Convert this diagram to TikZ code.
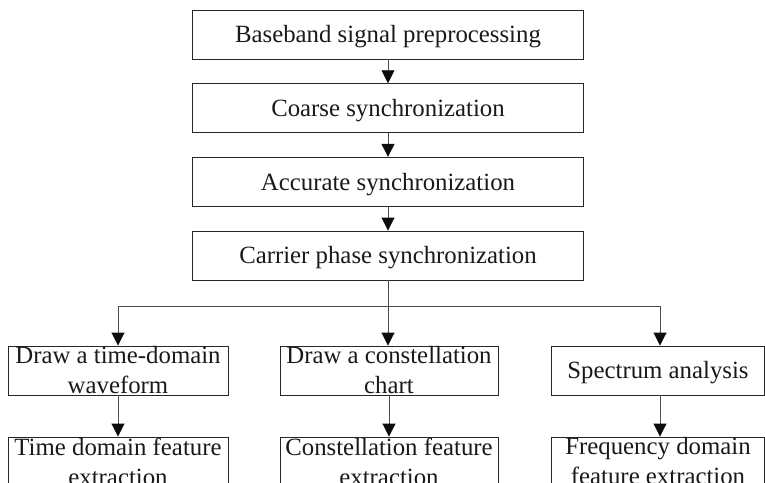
\documentclass[tikz,border=0pt]{standalone}
\usepackage{fontspec}
\setmainfont{Liberation Serif}
\usetikzlibrary{arrows.meta}

\tikzset{
  x=1pt, y=-1pt,
  procbox/.style={draw=black!85, line width=0.9pt, inner sep=0pt, align=center,
    text=black!90, font=\fontsize{24.8}{30}\selectfont, minimum height=49pt},
  oneline/.style={text height=16.4pt, text depth=0pt},
  wide/.style={minimum width=391pt, oneline},
  narrow/.style={minimum width=220pt},
  link/.style={draw=black!70, line width=0.9pt},
  flow/.style={link, -{Triangle[length=13pt,width=13pt,color=black!95]}},
}

\begin{document}
\begin{tikzpicture}
  \useasboundingbox (0,0) rectangle (765,482);
  \clip (0,0) rectangle (765,482);

  % main chain
  \node[procbox, wide] (pre)  at (388,34.5)  {Baseband signal preprocessing};
  \node[procbox, wide] (crs)  at (388,108.2) {Coarse synchronization};
  \node[procbox, wide] (acc)  at (388,181.8) {Accurate synchronization};
  \node[procbox, wide] (cph)  at (388,255.5) {Carrier phase synchronization};

  % three branches
  \node[procbox, narrow] (tdw) at (118,370.5) {Draw a time-domain\\waveform};
  \node[procbox, minimum width=218pt] (cst) at (389,370.5) {Draw a constellation\\chart};
  \node[procbox, oneline, minimum width=213pt] (spa) at (658,370.5) {Spectrum analysis};

  \node[procbox, narrow] (tdf) at (118,461.5) {Time domain feature\\extraction};
  \node[procbox, minimum width=218pt] (csf) at (389,461.5) {Constellation feature\\extraction};
  \node[procbox, minimum width=213pt] (fdf) at (658,461.5) {Frequency domain\\feature extraction};

  \draw[flow] (pre.south) -- (crs.north);
  \draw[flow] (crs.south) -- (acc.north);
  \draw[flow] (acc.south) -- (cph.north);

  % distribution bus
  \coordinate (busL) at (118,306);
  \coordinate (busR) at (660,306);
  \draw[link] (busL) -- (busR);
  \draw[flow] (cph.south) -- (cph.south |- cst.north);
  \draw[flow] (busL) -- (tdw.north);
  \draw[flow] (busR) -- (busR |- spa.north);

  \draw[flow] (tdw.south) -- (tdf.north);
  \draw[flow] (cst.south) -- (csf.north);
  \draw[flow] (spa.south -| busR) -- (busR |- fdf.north);
\end{tikzpicture}
\end{document}
